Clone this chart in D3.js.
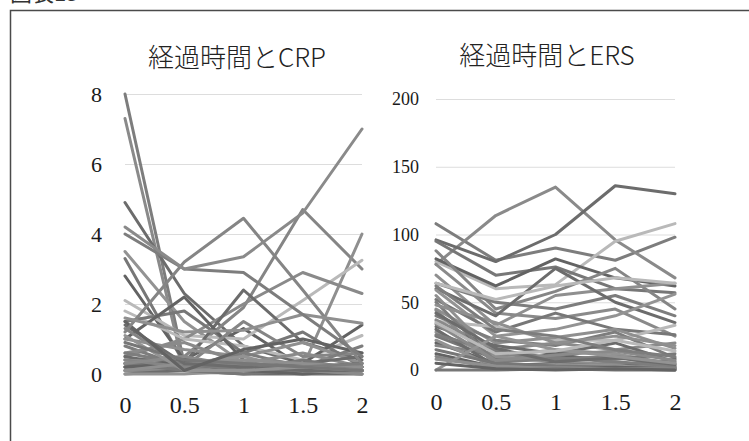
<!DOCTYPE html>
<html>
<head>
<meta charset="utf-8">
<script src="https://cdn.jsdelivr.net/npm/d3@7"></script>
<style>
  body { margin: 0; background: #fff; }
  svg { display: block; }
</style>
</head>
<body>
<div class="chart"></div>
<script>
// time points on the x axis
var times = [0, 0.5, 1, 1.5, 2];

// CRP per patient (one row = one line)
var crpValues = [
  [8.0, 0.3, 0.2, 0.1, 0.1],
  [7.3, 0.1, 0.1, 0.1, 0.1],
  [4.9, 2.3, 0.8, 0.3, 0.2],
  [3.5, 1.5, 0.3, 0.2, 0.1],
  [3.3, 0.3, 0.2, 0.1, 0.1],
  [2.8, 0.4, 1.3, 0.2, 0.1],
  [0.4, 0.5, 1.9, 4.7, 3.0],
  [0.2, 0.1, 0.3, 0.2, 4.0],
  [2.1, 1.1, 1.0, 2.1, 3.25],
  [0.5, 1.0, 2.0, 2.9, 2.3],
  [0.3, 0.3, 2.4, 0.9, 0.4],
  [1.8, 1.0, 0.8, 0.4, 1.1],
  [1.5, 1.8, 0.6, 1.2, 0.2],
  [1.0, 2.2, 0.4, 0.3, 1.4],
  [1.3, 0.2, 1.5, 0.5, 0.6],
  [1.0, 0.7, 0.5, 0.9, 0.3],
  [0.8, 0.2, 0.6, 0.2, 0.8],
  [0.6, 0.9, 0.3, 0.6, 0.2],
  [0.5, 0.2, 0.2, 0.3, 0.5],
  [0.4, 0.3, 0.5, 0.1, 0.2],
  [0.3, 0.2, 0.1, 0.4, 0.1],
  [0.2, 0.4, 0.2, 0.2, 0.3],
  [0.2, 0.1, 0.1, 0.1, 0.2],
  [0.1, 0.1, 0.1, 0.1, 0.1],
  [0.1, 0.2, 0.1, 0.2, 0.1],
  [0.1, 0.1, 0.2, 0.1, 0.0],
  [0.0, 0.1, 0.0, 0.0, 0.0],
  [0.0, 0.0, 0.1, 0.0, 0.1],
  [0.3, 0.1, 0.0, 0.1, 0.2],
  [0.2, 0.3, 0.1, 0.0, 0.1],
  [0.4, 0.2, 0.3, 0.2, 0.1],
  [0.1, 0.3, 0.4, 0.3, 0.2],
  [0.6, 0.3, 0.1, 0.2, 0.3],
  [0.3, 0.5, 0.2, 0.1, 0.0],
  [1.4, 0.3, 0.2, 0.1, 0.1],
  [1.1, 0.1, 0.1, 0.2, 0.1],
  [0.9, 0.4, 0.3, 0.2, 0.1],
  [1.5, 0.1, 0.7, 1.0, 0.6],
  [1.2, 3.2, 4.45, 2.4, 0.3],
  [1.6, 1.2, 1.25, 1.7, 1.45],
  [4.0, 3.0, 2.9, 1.7, 0.5],
  [4.2, 3.0, 3.35, 4.6, 7.0]
];

// ERS per patient
var ersValues = [
  [108, 81, 90, 81, 98],
  [78, 114, 135, 96, 68],
  [96, 80, 100, 136, 130],
  [80, 60, 63, 95, 108],
  [95, 70, 76, 60, 57],
  [82, 62, 82, 68, 62],
  [88, 45, 58, 75, 45],
  [70, 33, 55, 60, 64],
  [64, 50, 45, 55, 40],
  [78, 42, 38, 45, 25],
  [60, 40, 75, 50, 35],
  [59, 25, 30, 40, 56],
  [52, 28, 42, 30, 26],
  [64, 52, 62, 68, 64],
  [36, 32, 22, 22, 33],
  [45, 20, 24, 30, 16],
  [40, 22, 18, 28, 9],
  [37, 15, 20, 15, 20],
  [32, 18, 12, 20, 6],
  [28, 10, 15, 12, 4],
  [25, 8, 10, 8, 12],
  [20, 5, 12, 5, 2],
  [18, 12, 8, 10, 5],
  [55, 10, 6, 4, 3],
  [50, 6, 8, 10, 2],
  [44, 4, 3, 5, 2],
  [30, 3, 5, 2, 8],
  [22, 2, 4, 3, 1],
  [15, 5, 3, 2, 1],
  [12, 2, 1, 2, 1],
  [10, 1, 2, 1, 0],
  [8, 3, 1, 1, 1],
  [26, 14, 9, 6, 3],
  [34, 7, 11, 14, 7],
  [42, 16, 6, 9, 4],
  [0, 25, 15, 10, 5],
  [0, 0, 1, 0, 0],
  [5, 1, 0, 1, 0],
  [35, 12, 14, 22, 14],
  [48, 35, 20, 25, 18],
  [62, 30, 25, 15, 10]
];

var xTicks = [0, 0.5, 1, 1.5, 2];
var crpTicks = [0, 2, 4, 6, 8];
var ersTicks = [0, 50, 100, 150, 200];

// greys for the lines, a few series are lighter
var greys = ['#7d7d7d', '#8a8a8a', '#6c6c6c', '#939393', '#777777', '#636363', '#858585', '#8f8f8f'];
var lightCrp = [8, 11];
var lightErs = [3, 13, 14, 38];

var W = 749, H = 441;
var svg = d3.select('.chart').append('svg')
  .attr('width', W)
  .attr('height', H);

svg.append('rect').attr('width', W).attr('height', H).attr('fill', '#fff');

// caption at the top, cut by the page edge like in the scan
svg.append('text')
  .attr('x', 10).attr('y', 0.5)
  .attr('font-family', 'Noto Sans CJK JP')
  .attr('font-size', 22)
  .attr('fill', '#333')
  .text('図表15');

// frame
svg.append('rect')
  .attr('x', 10.5).attr('y', 10.5)
  .attr('width', 900).attr('height', 600)
  .attr('fill', 'none')
  .attr('stroke', '#4a4a4a')
  .attr('stroke-width', 1.5);

var drawPanel = function(opt){
  var x = d3.scaleLinear().domain([0, 2]).range([opt.left, opt.right]);
  var y = d3.scaleLinear().domain([0, opt.max]).range([opt.bottom, opt.top]);

  // grid + y labels
  var yAxis = svg.append('g')
    .attr('transform', 'translate(' + opt.left + ',0)')
    .call(d3.axisLeft(y).tickValues(opt.yTicks)
      .tickSize(-(opt.right - opt.left))
      .tickPadding(opt.yPad));
  yAxis.select('.domain').remove();
  yAxis.selectAll('line').attr('stroke', '#d4d4d4').attr('stroke-width', 0.8);
  yAxis.selectAll('text')
    .attr('font-family', 'Liberation Serif')
    .attr('font-size', opt.yFont)
    .attr('fill', '#1a1a1a');

  // x labels
  var xAxis = svg.append('g')
    .attr('transform', 'translate(0,' + opt.bottom + ')')
    .call(d3.axisBottom(x).tickValues(xTicks).tickSize(0).tickPadding(opt.xPad)
      .tickFormat(function(d){ return String(d); }));
  xAxis.select('.domain').remove();
  xAxis.selectAll('text')
    .attr('font-family', 'Liberation Serif')
    .attr('font-size', 24)
    .attr('fill', '#1a1a1a');

  var line = d3.line()
    .x(function(d, i){ return x(times[i]); })
    .y(function(d){ return y(d); });

  svg.append('g').selectAll('path')
    .data(opt.data)
    .enter()
    .append('path')
      .attr('d', line)
      .attr('fill', 'none')
      .attr('stroke', function(d, i){
        return opt.light.indexOf(i) >= 0 ? '#b9b9b9' : greys[i % greys.length];
      })
      .attr('stroke-width', 3)
      .attr('stroke-linejoin', 'round')
      .attr('stroke-linecap', 'round');

  svg.append('text')
    .attr('x', opt.titleX).attr('y', opt.titleY)
    .attr('text-anchor', 'middle')
    .attr('font-family', 'Noto Sans CJK JP')
    .attr('font-weight', 300)
    .attr('font-size', 26)
    .attr('fill', '#222')
    .text(opt.title);
};

drawPanel({
  data: crpValues, max: 8, yTicks: crpTicks, light: lightCrp,
  left: 125, right: 362, top: 94, bottom: 374,
  yPad: 23, yFont: 22, xPad: 22,
  title: '経過時間とCRP', titleX: 237, titleY: 67
});

drawPanel({
  data: ersValues, max: 200, yTicks: ersTicks, light: lightErs,
  left: 436, right: 675, top: 99, bottom: 370,
  yPad: 17, yFont: 18, xPad: 23,
  title: '経過時間とERS', titleX: 547, titleY: 65
});
</script>
</body>
</html>
